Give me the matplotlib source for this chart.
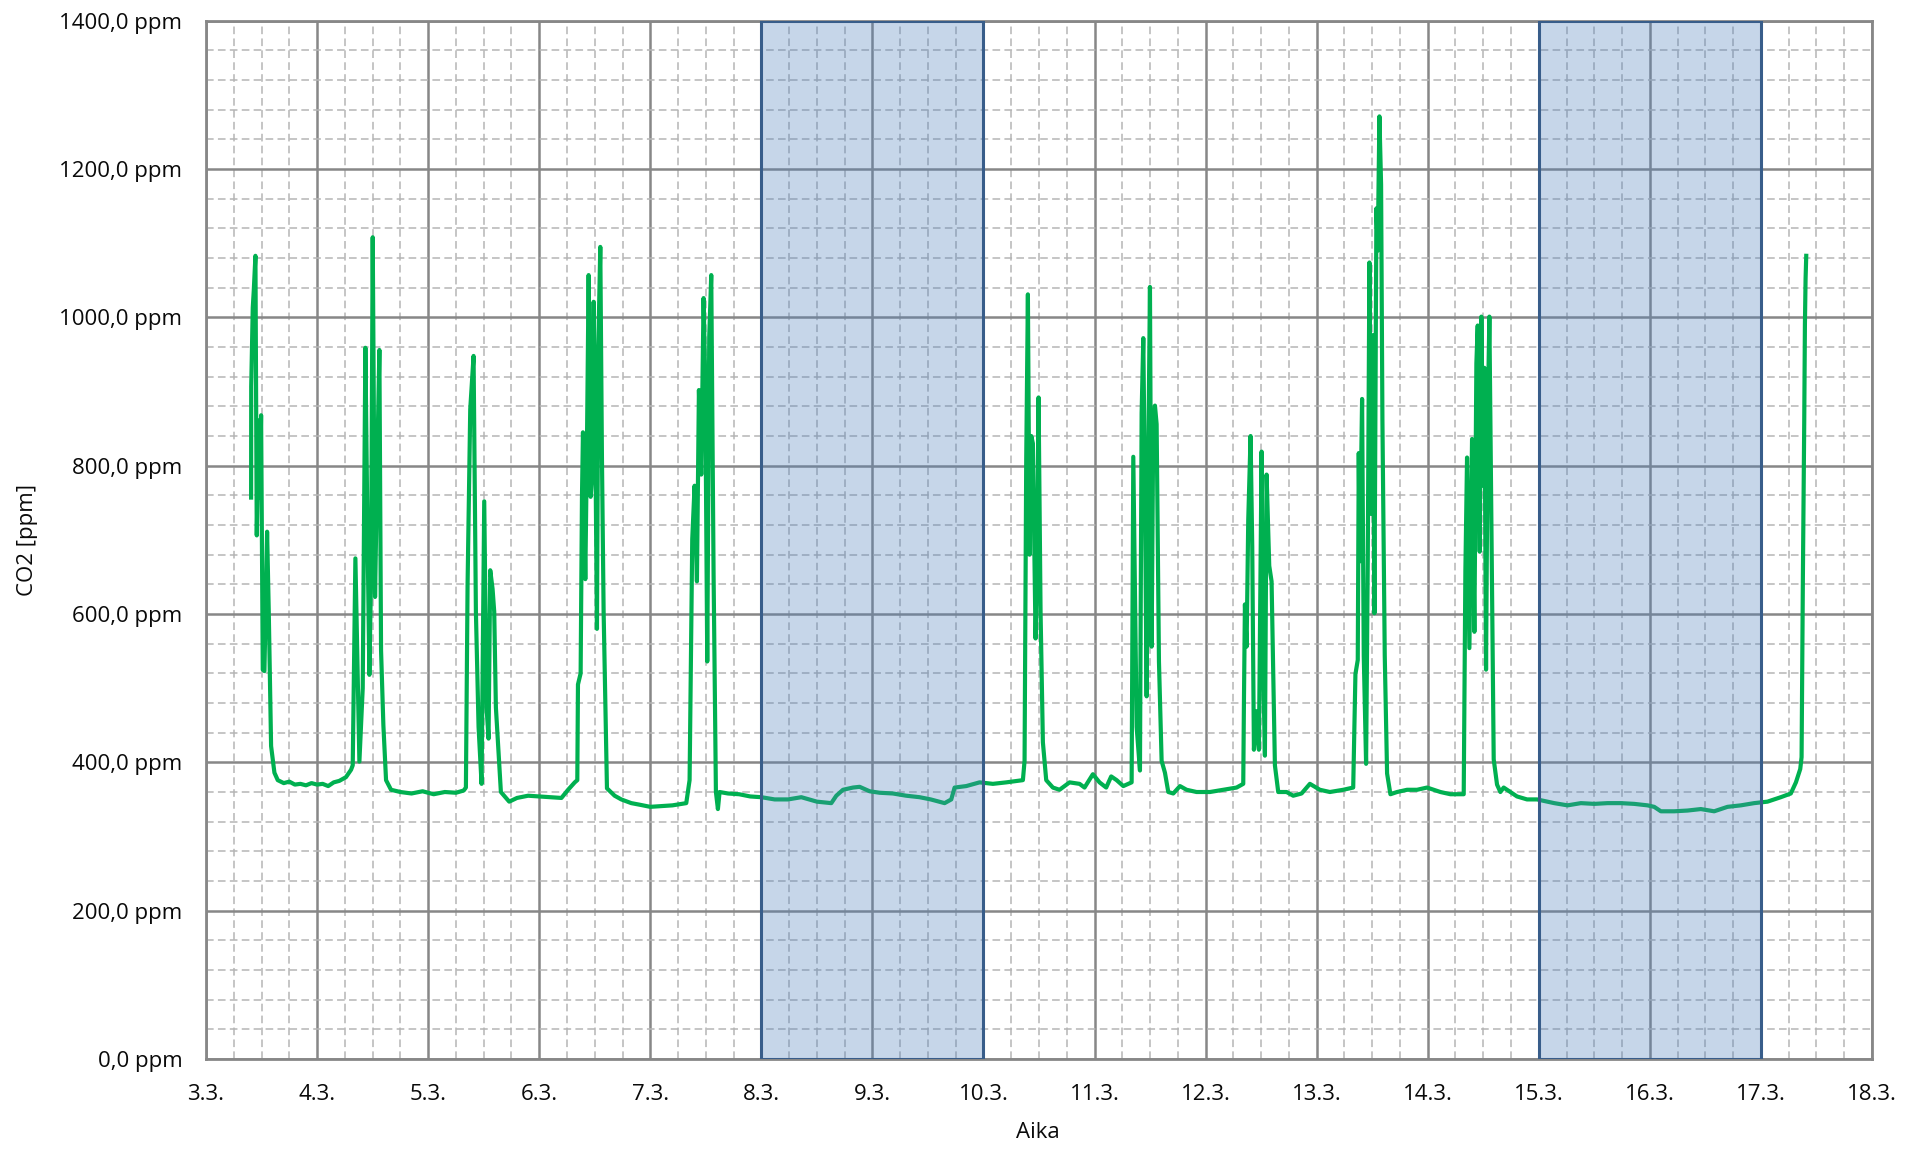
import matplotlib
matplotlib.use("Agg")
import matplotlib.pyplot as plt
from matplotlib.ticker import MultipleLocator, FixedLocator

plt.rcParams['font.family'] = ['Open Sans', 'DejaVu Sans']

# ---- data (day of March, CO2 ppm) ----
days = [
    3.406, 3.407, 3.421, 3.430, 3.445, 3.457, 3.475, 3.484, 3.496, 3.511, 3.526, 3.550, 3.565, 3.586, 3.616, 3.646,
    3.700, 3.750, 3.800, 3.850, 3.900, 3.950, 4.000, 4.050, 4.100, 4.150, 4.200, 4.260, 4.306, 4.321,
    4.345, 4.381, 4.411, 4.435, 4.450, 4.471, 4.486, 4.501, 4.522, 4.540, 4.561, 4.576, 4.597, 4.621, 4.666,
    4.750, 4.850, 4.950, 5.050, 5.150, 5.250, 5.320, 5.340,
    5.355, 5.379, 5.409, 5.430, 5.454, 5.481, 5.505, 5.526, 5.544, 5.559, 5.580, 5.595, 5.610, 5.655, 5.730,
    5.800, 5.900, 6.000, 6.100, 6.200, 6.260, 6.320, 6.343,
    6.349, 6.373, 6.385, 6.394, 6.415, 6.430, 6.445, 6.463, 6.475, 6.490, 6.505, 6.520, 6.532, 6.550, 6.565,
    6.580, 6.610, 6.679, 6.739, 6.829, 6.900, 7.000, 7.100, 7.200, 7.324,
    7.354, 7.378, 7.399, 7.420, 7.438, 7.459, 7.480, 7.495, 7.513, 7.531, 7.549, 7.570, 7.591, 7.609, 7.624,
    7.700, 7.800, 7.900, 8.000, 8.120, 8.240, 8.360, 8.500, 8.630, 8.675, 8.735, 8.825, 8.885, 8.975,
    9.065, 9.185, 9.305, 9.425, 9.525, 9.650, 9.710, 9.740, 9.845, 9.965, 10.085, 10.205, 10.355,
    10.370, 10.385, 10.400, 10.415, 10.430, 10.445, 10.469, 10.481, 10.496, 10.514, 10.535, 10.565,
    10.625, 10.685, 10.775, 10.865, 10.910, 10.985, 11.045, 11.105, 11.150, 11.199, 11.259, 11.334,
    11.349, 11.379, 11.409, 11.424, 11.439, 11.454, 11.469, 11.484, 11.499, 11.514, 11.529, 11.544, 11.559,
    11.580, 11.604, 11.634, 11.664, 11.709, 11.769, 11.829, 11.919, 12.039, 12.159, 12.279, 12.339,
    12.345, 12.354, 12.369, 12.384, 12.405, 12.420, 12.435, 12.459, 12.480, 12.504, 12.519, 12.534, 12.549,
    12.573, 12.594, 12.624, 12.654, 12.729, 12.789, 12.864, 12.939, 13.029, 13.119, 13.239, 13.329,
    13.349, 13.370, 13.379, 13.388, 13.409, 13.424, 13.445, 13.460, 13.475, 13.490, 13.505, 13.520, 13.538,
    13.550, 13.565, 13.580, 13.592, 13.613, 13.634, 13.664, 13.724, 13.814, 13.904, 13.994, 14.114, 14.204, 14.324,
    14.339, 14.354, 14.375, 14.399, 14.420, 14.438, 14.450, 14.468, 14.483, 14.498, 14.510, 14.525, 14.540,
    14.555, 14.570, 14.594, 14.624, 14.654, 14.684, 14.744, 14.804, 14.894, 14.984,
    15.139, 15.259, 15.379, 15.499, 15.619, 15.739, 15.859, 15.979, 16.039, 16.099, 16.219, 16.339, 16.459,
    16.579, 16.699, 16.819, 16.939, 17.059, 17.179, 17.269, 17.315, 17.354, 17.366,
    17.378, 17.390, 17.396, 17.402, 17.408,
]
co2 = [
    757, 907, 1013, 1036, 1083, 706, 861, 757, 868, 525, 523, 711, 603, 422, 386, 376,
    372, 374, 370, 371, 369, 372, 370, 371, 368, 373, 375, 380, 390, 396,
    675, 401, 500, 959, 757, 518, 654, 1108, 623, 788, 956, 551, 450, 376, 363,
    360, 358, 361, 357, 360, 359, 362, 366,
    639, 876, 948, 603, 448, 371, 752, 474, 432, 659, 634, 603, 474, 360, 347,
    352, 355, 354, 353, 352, 363, 373, 376,
    505, 520, 758, 845, 647, 830, 1057, 758, 783, 1021, 840, 580, 959, 1095, 809,
    603, 365, 355, 350, 345, 343, 340, 341, 342, 345,
    376, 701, 773, 644, 902, 788, 1026, 912, 536, 974, 1057, 654, 360, 337, 360,
    358, 357, 354, 353, 350, 350, 353, 347, 345, 355, 363, 366, 367, 361,
    359, 358, 355, 353, 350, 345, 350, 366, 368, 373, 371, 373, 376,
    402, 809, 1031, 680, 840, 830, 567, 654, 892, 603, 427, 376,
    366, 363, 373, 371, 366, 384, 373, 366, 381, 376, 368, 373,
    812, 448, 389, 871, 972, 758, 489, 809, 1041, 556, 861, 881, 856,
    536, 402, 386, 360, 358, 368, 363, 360, 360, 363, 366, 371,
    479, 613, 556, 727, 840, 690, 417, 469, 417, 819, 525, 409, 788,
    665, 644, 396, 360, 360, 355, 358, 371, 363, 360, 363, 366,
    519, 538, 817, 671, 890, 544, 398, 671, 1074, 735, 976, 601, 1147,
    1090, 1271, 1179, 862, 544, 385, 357, 360, 363, 363, 366, 360, 357, 357,
    658, 811, 554, 836, 576, 938, 989, 684, 1001, 773, 932, 525, 862,
    1001, 773, 404, 370, 360, 366, 360, 354, 350, 350,
    345, 342, 345, 344, 345, 345, 344, 342, 340, 334, 334, 335, 337,
    334, 340, 342, 345, 347, 353, 358, 373, 391, 407,
    654, 861, 990, 1052, 1083,
]

x_ticks = list(range(3, 19))
x_tick_labels = [f"{d}.3." for d in x_ticks]
y_ticks = list(range(0, 1401, 200))
y_tick_labels = [f"{v},0 ppm" for v in y_ticks]
weekends = [(8, 10), (15, 17)]

# ---- figure ----
fig = plt.figure(figsize=(19.21, 11.52), dpi=100)
ax = fig.add_axes([0.10724, 0.08073, 0.86725, 0.9013])

ax.set_xlim(3, 18)
ax.set_ylim(0, 1400)

grid_col = '#878787'
ax.xaxis.set_major_locator(FixedLocator(x_ticks))
ax.yaxis.set_major_locator(FixedLocator(y_ticks))
ax.xaxis.set_minor_locator(MultipleLocator(0.25))
ax.yaxis.set_minor_locator(MultipleLocator(40))
ax.set_xticklabels(x_tick_labels)
ax.set_yticklabels(y_tick_labels)

ax.grid(which='major', color=grid_col, linewidth=1.8, zorder=1)
ax.grid(which='minor', color='#b5b5b5', linewidth=1.1, linestyle=(0, (5, 2.8)), zorder=0.5)
ax.set_axisbelow(True)

for s in ax.spines.values():
    s.set_color(grid_col)
    s.set_linewidth(2.0)

ax.tick_params(which='both', length=0)
ax.tick_params(axis='x', pad=18, labelsize=16, colors='#0a0a0a')
ax.tick_params(axis='y', pad=17, labelsize=16, colors='#0a0a0a')

ax.plot(days, co2, color='#00b050', linewidth=3.0, zorder=3, solid_joinstyle='round')

for a, b in weekends:
    ax.axvspan(a, b, facecolor=(79/255, 129/255, 189/255, 0.32),
               edgecolor='#385d8a', linewidth=2.2, zorder=4)

fig.text(0.5404, 1 - 1133/1152, 'Aika', ha='center', va='center', fontsize=16, color='#0a0a0a')
fig.text(27/1921, 0.08073 + 0.9013/2, 'CO2 [ppm]', ha='center', va='center',
         rotation=90, fontsize=16, color='#0a0a0a')

fig.savefig('out.png', dpi=100, facecolor='white')
